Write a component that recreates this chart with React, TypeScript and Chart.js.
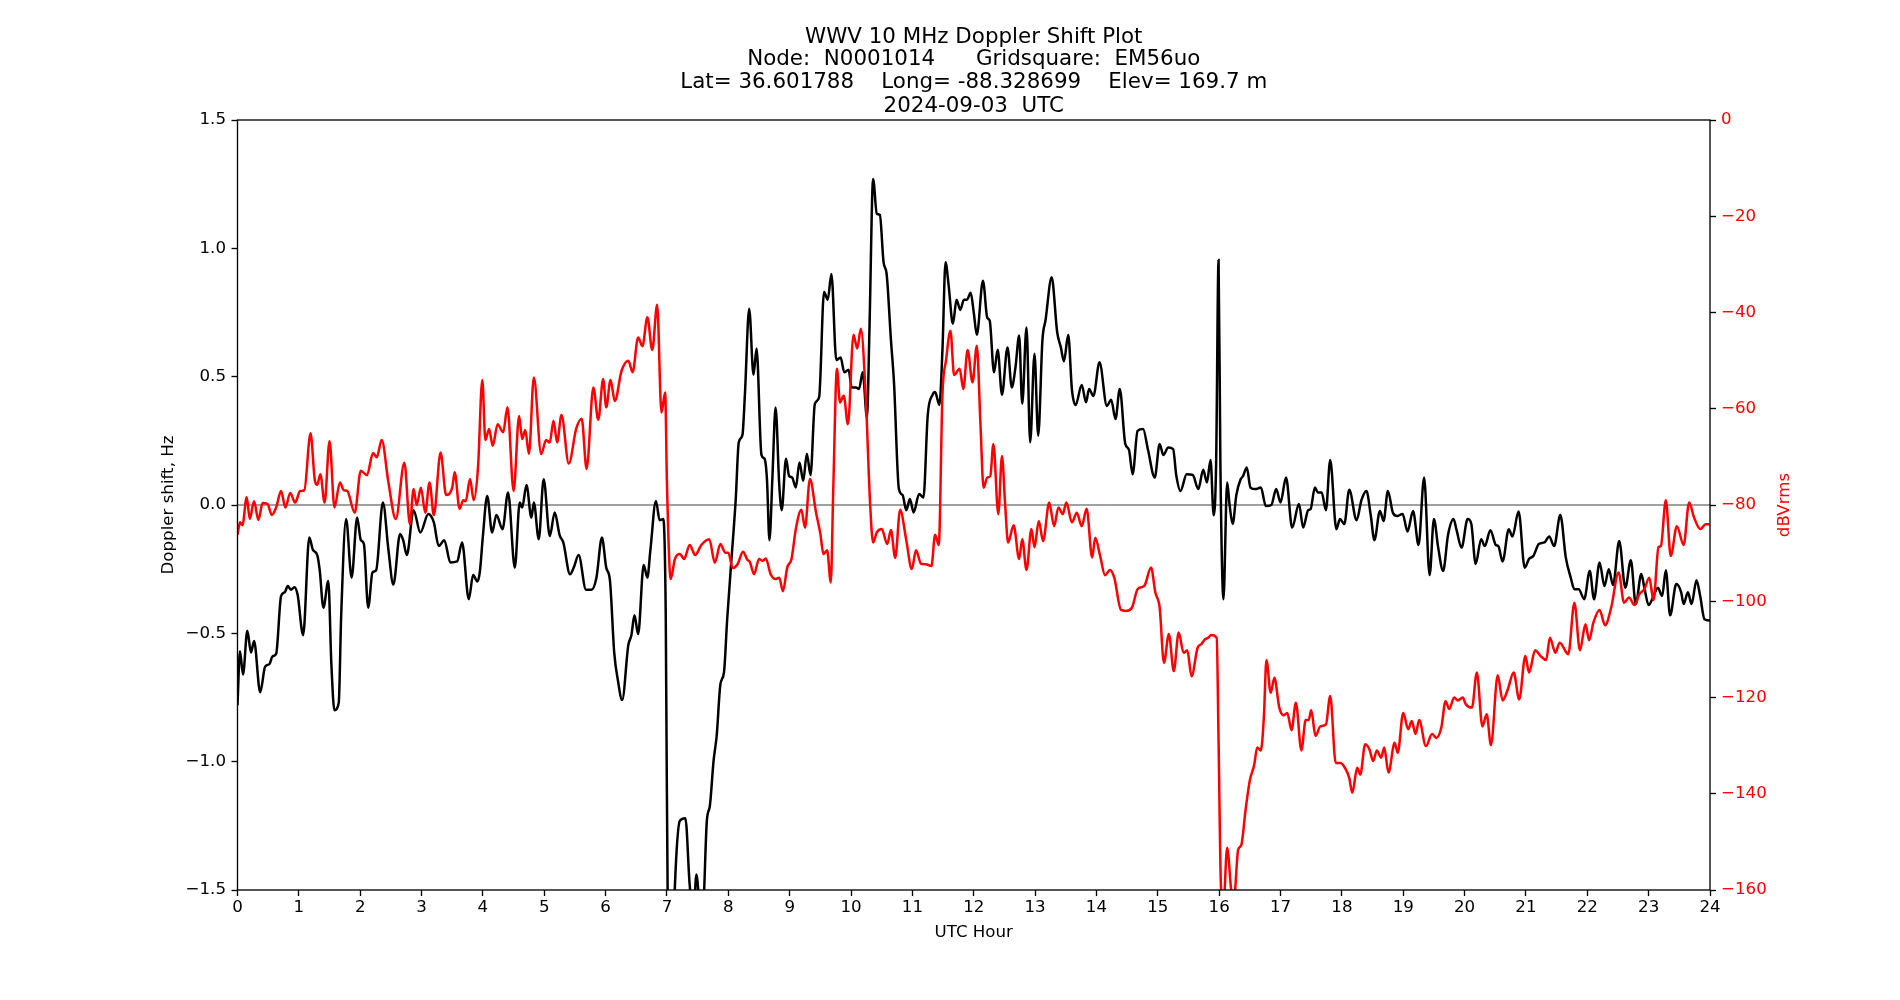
import React, { useEffect, useRef } from "react";
import { Chart, registerables } from "chart.js";

Chart.register(...registerables);

// ---- Data ----
const dopplerHours = [
  0.0, 0.04, 0.09, 0.16, 0.22, 0.27, 0.37, 0.45, 0.52, 0.57, 0.63, 0.71, 0.77, 0.82, 0.87, 0.93, 0.98,
  1.07, 1.17, 1.23, 1.3, 1.34, 1.4, 1.48, 1.53, 1.58, 1.65, 1.69, 1.77, 1.86, 1.95,
  2.01, 2.06, 2.13, 2.2, 2.26, 2.37, 2.46, 2.54, 2.65, 2.7, 2.76, 2.87, 2.98,
  3.11, 3.2, 3.28, 3.37, 3.47, 3.58, 3.66, 3.77, 3.84, 3.91, 3.95, 4.0,
  4.07, 4.15, 4.22, 4.32, 4.41, 4.52, 4.6, 4.64, 4.71, 4.79, 4.83, 4.91, 4.99,
  5.09, 5.17, 5.25, 5.31, 5.42, 5.48, 5.56, 5.68, 5.77, 5.85, 5.94,
  6.01, 6.07, 6.14, 6.2, 6.27, 6.37, 6.42, 6.47, 6.53, 6.62, 6.68, 6.73, 6.82, 6.88, 6.94, 6.98,
  7.02, 7.08, 7.13, 7.21, 7.3, 7.37, 7.43, 7.48, 7.55, 7.58, 7.65, 7.7, 7.76, 7.81, 7.87, 7.93, 7.98,
  8.05, 8.12, 8.17, 8.23, 8.27, 8.34, 8.41, 8.46, 8.54, 8.59, 8.63, 8.67, 8.72, 8.77, 8.83, 8.87, 8.94, 8.99,
  9.04, 9.1, 9.16, 9.22, 9.28, 9.34, 9.41, 9.48, 9.56, 9.62, 9.68, 9.76, 9.83, 9.89, 9.96,
  10.01, 10.08, 10.13, 10.19, 10.26, 10.3, 10.36, 10.42, 10.47, 10.53, 10.58, 10.65, 10.7, 10.78, 10.84, 10.9, 10.96,
  11.02, 11.11, 11.18, 11.25, 11.33, 11.37, 11.44, 11.49, 11.54, 11.59, 11.66, 11.72, 11.78, 11.84, 11.89, 11.95,
  12.0, 12.05, 12.15, 12.22, 12.26, 12.33, 12.39, 12.46, 12.55, 12.62, 12.68, 12.74, 12.79, 12.86, 12.92, 12.99,
  13.05, 13.12, 13.17, 13.27, 13.36, 13.42, 13.47, 13.54, 13.6, 13.66, 13.76, 13.83, 13.88, 13.95,
  14.05, 14.17, 14.24, 14.31, 14.38, 14.47, 14.53, 14.59, 14.67, 14.76, 14.84, 14.95,
  15.03, 15.09, 15.17, 15.25, 15.3, 15.37, 15.47, 15.57, 15.66, 15.74, 15.8, 15.86, 15.91, 15.95, 15.99,
  16.02, 16.07, 16.13, 16.17, 16.22, 16.28, 16.35, 16.39, 16.45, 16.51, 16.59, 16.68, 16.76, 16.85, 16.93,
  17.0, 17.09, 17.19, 17.3, 17.37, 17.45, 17.49, 17.56, 17.61, 17.67, 17.74, 17.81, 17.91, 17.97,
  18.04, 18.12, 18.24, 18.32, 18.4, 18.47, 18.53, 18.62, 18.68, 18.75, 18.83, 18.9, 18.99,
  19.07, 19.16, 19.25, 19.34, 19.43, 19.5, 19.57, 19.65, 19.73, 19.82, 19.87, 19.95,
  20.05, 20.11, 20.18, 20.27, 20.33, 20.42, 20.51, 20.55, 20.62, 20.72, 20.78, 20.88, 20.98,
  21.05, 21.12, 21.21, 21.3, 21.38, 21.46, 21.56, 21.65, 21.73, 21.79, 21.86, 21.95,
  22.04, 22.11, 22.2, 22.28, 22.35, 22.42, 22.52, 22.62, 22.71, 22.79, 22.88, 22.93,
  23.0, 23.07, 23.15, 23.22, 23.28, 23.35, 23.45, 23.53, 23.57, 23.64, 23.7, 23.78, 23.84, 23.91, 24.0,
];

const dopplerHz = [
  -0.78, -0.57, -0.66, -0.49, -0.575, -0.53, -0.73, -0.63, -0.62, -0.59, -0.58, -0.355, -0.34, -0.316, -0.33, -0.32, -0.35,
  -0.507, -0.127, -0.175, -0.195, -0.254, -0.4, -0.296, -0.62, -0.8, -0.77, -0.43, -0.055, -0.283, -0.049,
  -0.137, -0.152, -0.4, -0.263, -0.254, 0.01, -0.175, -0.31, -0.113, -0.137, -0.195, -0.02, -0.107,
  -0.035, -0.068, -0.16, -0.137, -0.224, -0.22, -0.146, -0.367, -0.273, -0.298, -0.26, -0.12,
  0.035, -0.107, -0.039, -0.094, 0.049, -0.244, 0.01, -0.01, 0.078, -0.049, 0.01, -0.133, 0.1,
  -0.121, -0.029, -0.117, -0.146, -0.27, -0.244, -0.195, -0.33, -0.33, -0.283, -0.127,
  -0.244, -0.293, -0.575, -0.683, -0.76, -0.546, -0.507, -0.43, -0.503, -0.234, -0.283, -0.175, 0.016, -0.059, -0.055, -0.43,
  -1.8, -1.9, -1.48, -1.23, -1.22, -1.48, -1.6, -1.44, -1.6, -1.6, -1.23, -1.17, -0.995, -0.9, -0.7, -0.65, -0.45,
  -0.215, 0.02, 0.244, 0.273, 0.43, 0.765, 0.507, 0.61, 0.195, 0.18, 0.098, -0.137, 0.117, 0.38, 0.078, -0.02, 0.18, 0.113,
  0.107, 0.068, 0.166, 0.094, 0.2, 0.117, 0.394, 0.42, 0.83, 0.8, 0.9, 0.565, 0.575, 0.517, 0.527,
  0.458, 0.458, 0.452, 0.517, 0.34, 0.683, 1.27, 1.135, 1.13, 0.946, 0.9, 0.644, 0.478, 0.062, 0.039, -0.02, 0.023,
  -0.029, 0.043, 0.029, 0.35, 0.43, 0.44, 0.39, 0.605, 0.946, 0.858, 0.706, 0.8, 0.76, 0.8, 0.8, 0.827,
  0.75, 0.663, 0.874, 0.73, 0.718, 0.517, 0.605, 0.43, 0.614, 0.458, 0.536, 0.66, 0.394, 0.692, 0.244, 0.589,
  0.27, 0.644, 0.72, 0.887, 0.673, 0.614, 0.56, 0.663, 0.45, 0.39, 0.468, 0.4, 0.452, 0.425,
  0.556, 0.386, 0.41, 0.335, 0.452, 0.238, 0.215, 0.12, 0.289, 0.296, 0.215, 0.107,
  0.238, 0.195, 0.224, 0.218, 0.117, 0.055, 0.12, 0.117, 0.062, 0.137, 0.088, 0.175, -0.04, 0.156, 0.955,
  0.156, -0.367, 0.088, 0.0, -0.074, 0.039, 0.1, 0.113, 0.146, 0.068, 0.062, 0.068, -0.004, 0.0, 0.062,
  0.01, 0.107, -0.088, 0.004, -0.088, -0.02, -0.016, 0.068, 0.049, 0.049, -0.02, 0.175, -0.094, -0.055,
  -0.074, 0.059, -0.059, 0.02, 0.055, -0.039, -0.137, -0.023, -0.062, 0.055, -0.029, -0.043, -0.035,
  -0.103, -0.023, -0.156, 0.107, -0.273, -0.055, -0.166, -0.257, -0.117, -0.055, -0.098, -0.166,
  -0.055, -0.074, -0.23, -0.133, -0.16, -0.098, -0.156, -0.16, -0.22, -0.094, -0.123, -0.025, -0.244,
  -0.21, -0.199, -0.152, -0.146, -0.123, -0.16, -0.039, -0.205, -0.283, -0.328, -0.328, -0.367,
  -0.257, -0.367, -0.224, -0.316, -0.25, -0.312, -0.14, -0.322, -0.215, -0.386, -0.269, -0.322,
  -0.39, -0.36, -0.322, -0.355, -0.254, -0.43, -0.308, -0.34, -0.386, -0.34, -0.386, -0.293, -0.355, -0.445, -0.45,
];

const powerHours = [
  0.0, 0.04, 0.08, 0.15, 0.2, 0.27, 0.34, 0.41, 0.49, 0.56, 0.63, 0.71, 0.78, 0.86, 0.94,
  1.02, 1.09, 1.19, 1.26, 1.3, 1.35, 1.42, 1.5, 1.58, 1.67, 1.73, 1.79, 1.91,
  2.01, 2.11, 2.21, 2.27, 2.35, 2.46, 2.58, 2.72, 2.81, 2.87, 2.92, 2.99,
  3.06, 3.13, 3.2, 3.31, 3.4, 3.5, 3.54, 3.62, 3.68, 3.72, 3.79, 3.85, 3.92, 3.99,
  4.04, 4.1, 4.16, 4.24, 4.33, 4.4, 4.5, 4.59, 4.64, 4.69, 4.75, 4.83, 4.95,
  5.03, 5.09, 5.15, 5.21, 5.28, 5.4, 5.52, 5.61, 5.69, 5.8, 5.88, 5.96,
  6.01, 6.08, 6.15, 6.26, 6.37, 6.44, 6.53, 6.6, 6.68, 6.76, 6.84, 6.91, 6.97,
  7.0, 7.06, 7.13, 7.21, 7.28, 7.37, 7.46, 7.56, 7.69, 7.78, 7.87, 7.95,
  8.0, 8.07, 8.15, 8.24, 8.31, 8.35, 8.42, 8.5, 8.56, 8.61, 8.69, 8.77, 8.83, 8.89, 8.96,
  9.03, 9.1, 9.19, 9.25, 9.33, 9.43, 9.5, 9.55, 9.61, 9.67, 9.71, 9.77, 9.82, 9.88, 9.95,
  10.04, 10.1, 10.16, 10.24, 10.31, 10.36, 10.42, 10.5, 10.59, 10.65, 10.72, 10.8, 10.9, 10.99,
  11.06, 11.14, 11.22, 11.31, 11.37, 11.43, 11.49, 11.55, 11.62, 11.68, 11.77, 11.83, 11.9, 11.98,
  12.05, 12.11, 12.16, 12.22, 12.27, 12.32, 12.4, 12.46, 12.51, 12.56, 12.65, 12.74, 12.79, 12.86, 12.94, 12.99,
  13.06, 13.13, 13.23, 13.31, 13.38, 13.45, 13.51, 13.6, 13.68, 13.76, 13.84, 13.93, 13.98,
  14.06, 14.14, 14.22, 14.29, 14.4, 14.48, 14.58, 14.67, 14.78, 14.89, 14.96,
  15.03, 15.1, 15.18, 15.26, 15.34, 15.42, 15.48, 15.55, 15.65, 15.71, 15.77, 15.82, 15.87, 15.96, 15.99,
  16.03, 16.07, 16.13, 16.2, 16.24, 16.31, 16.36, 16.43, 16.5, 16.57, 16.62, 16.68, 16.73, 16.77, 16.84, 16.9, 16.98,
  17.05, 17.11, 17.18, 17.25, 17.34, 17.41, 17.46, 17.5, 17.57, 17.65, 17.74, 17.81, 17.9, 17.98,
  18.07, 18.12, 18.17, 18.25, 18.3, 18.38, 18.45, 18.51, 18.57, 18.64, 18.69, 18.76, 18.86, 18.91,
  19.0, 19.08, 19.14, 19.2, 19.26, 19.37, 19.47, 19.54, 19.62, 19.69, 19.75, 19.83, 19.89, 19.97,
  20.02, 20.12, 20.2, 20.29, 20.36, 20.43, 20.54, 20.62, 20.7, 20.8, 20.89, 20.99,
  21.05, 21.15, 21.24, 21.33, 21.39, 21.48, 21.55, 21.69, 21.79, 21.88, 21.97,
  22.03, 22.1, 22.2, 22.29, 22.39, 22.51, 22.6, 22.68, 22.77, 22.85, 22.93,
  23.01, 23.08, 23.16, 23.2, 23.28, 23.36, 23.46, 23.57, 23.66, 23.74, 23.84, 23.93, 24.0,
];

const powerDb = [
  -86.2, -83.6, -84.2, -78.4, -82.9, -79.2, -83.1, -79.6, -79.8, -82.1, -80.5, -77.1, -80.5, -77.5, -79.5,
  -77.1, -76.9, -65.1, -74.8, -75.8, -73.6, -79.5, -66.7, -80.5, -75.3, -76.9, -77.1, -81.6,
  -72.9, -73.8, -69.2, -70.1, -66.5, -75.3, -82.9, -71.2, -84.0, -76.7, -80.0, -76.4,
  -81.6, -75.3, -82.1, -69.1, -77.9, -76.4, -73.2, -80.8, -79.0, -79.2, -74.6, -79.0, -72.2, -54.0,
  -66.5, -64.2, -67.7, -63.2, -64.9, -59.7, -77.1, -61.5, -66.3, -64.4, -69.4, -53.5, -69.4,
  -66.5, -67.0, -62.5, -67.0, -61.3, -71.4, -64.2, -62.1, -72.5, -55.6, -62.3, -53.8,
  -59.7, -54.0, -58.4, -52.1, -50.0, -52.4, -45.2, -47.0, -41.0, -47.8, -38.4, -60.8, -56.6,
  -75.8, -95.4, -91.2, -90.2, -91.2, -88.3, -90.4, -88.3, -87.1, -92.0, -88.1, -89.9,
  -89.9, -93.1, -92.3, -89.7, -91.4, -91.8, -94.4, -91.2, -91.6, -91.1, -94.4, -95.4, -95.1, -97.9, -93.0,
  -91.2, -85.0, -81.0, -84.7, -74.6, -81.6, -86.0, -90.2, -89.4, -96.1, -76.9, -51.7, -58.7, -57.3, -63.2,
  -44.6, -47.5, -43.4, -57.6, -79.5, -87.8, -85.7, -85.0, -88.1, -85.2, -91.0, -81.0, -87.3, -93.3,
  -89.4, -92.2, -92.3, -92.7, -86.2, -88.3, -57.1, -49.8, -43.8, -53.0, -51.7, -55.9, -47.8, -54.5,
  -46.9, -63.4, -76.4, -74.3, -74.0, -67.3, -81.9, -69.8, -79.5, -87.8, -84.2, -91.2, -87.1, -93.5, -85.0, -88.8,
  -83.3, -87.5, -79.5, -84.4, -80.5, -81.9, -79.5, -83.6, -81.6, -84.4, -80.8, -90.9, -86.8,
  -90.6, -94.6, -93.5, -95.1, -101.8, -102.0, -101.3, -97.5, -96.8, -93.0, -98.2,
  -101.3, -112.8, -106.8, -114.5, -106.5, -110.7, -110.2, -115.6, -109.6, -108.9, -107.9, -107.6, -107.0, -107.6, -128.9,
  -159.6, -163.0, -151.2, -160.5, -162.0, -151.6, -150.7, -143.4, -137.2, -134.1, -130.4, -131.0, -123.7, -112.2, -119.0, -115.9, -122.1,
  -123.7, -123.2, -126.8, -121.1, -131.0, -124.7, -124.7, -122.6, -128.0, -126.0, -125.6, -119.7, -133.6, -133.6,
  -135.1, -136.7, -139.8, -134.6, -136.0, -129.7, -130.8, -133.2, -131.0, -132.5, -130.4, -135.6, -129.4, -131.5,
  -123.2, -126.6, -124.9, -127.6, -124.7, -130.1, -127.6, -128.4, -126.3, -120.8, -122.4, -120.0, -120.6, -120.0,
  -121.4, -122.1, -114.8, -126.0, -123.5, -129.9, -115.4, -120.6, -118.5, -114.8, -120.4, -111.4,
  -114.8, -110.2, -111.4, -112.2, -107.6, -110.7, -108.6, -111.0, -100.3, -110.2, -104.8,
  -108.1, -104.4, -101.8, -105.0, -101.3, -94.0, -100.3, -99.2, -100.8, -98.5, -97.5,
  -95.1, -99.8, -88.8, -88.5, -79.0, -90.6, -84.4, -88.3, -79.5, -82.6, -85.0, -84.0, -84.0,
];

const titleLines = [
  "WWV 10 MHz Doppler Shift Plot",
  "Node:  N0001014      Gridsquare:  EM56uo",
  "Lat= 36.601788    Long= -88.328699    Elev= 169.7 m",
  "2024-09-03  UTC",
];
const xAxisTitle = "UTC Hour";
const leftAxisTitle = "Doppler shift, Hz";
const rightAxisTitle = "dBVrms";

const hourRange = [0, 24];
const hzRange = [-1.5, 1.5];
const dbRange = [-160, 0];

const FONT = "'DejaVu Sans', 'Liberation Sans', sans-serif";
const mpMinus = (s: string) => s.replace("-", "\u2212");

export default function App() {
  const ref = useRef<HTMLCanvasElement | null>(null);

  useEffect(() => {
    document.body.style.margin = "0";
    document.body.style.background = "#ffffff";
    const canvas = ref.current;
    if (!canvas) return;

    const textPlugin = {
      id: "mplText",
      beforeDraw(chart: any) {
        const ctx = chart.ctx;
        ctx.save();
        ctx.fillStyle = "#ffffff";
        ctx.fillRect(0, 0, chart.width, chart.height);
        ctx.restore();
      },
      afterDraw(chart: any) {
        const { ctx, chartArea: a } = chart;
        ctx.save();
        ctx.strokeStyle = "#000000";
        ctx.lineWidth = 1.33;
        ctx.strokeRect(a.left, a.top, a.right - a.left, a.bottom - a.top);

        const cx = (a.left + a.right) / 2;
        const cy = (a.top + a.bottom) / 2;
        ctx.fillStyle = "#000000";
        ctx.textAlign = "center";
        ctx.textBaseline = "alphabetic";
        ctx.font = `21.4px ${FONT}`;
        const baselines = [42.7, 65.4, 88.4, 111.5];
        titleLines.forEach((t, i) => ctx.fillText(t, cx, baselines[i]));

        ctx.font = `16.67px ${FONT}`;
        ctx.fillText(xAxisTitle, cx, 937);

        ctx.save();
        ctx.translate(173, cy);
        ctx.rotate(-Math.PI / 2);
        ctx.fillText(leftAxisTitle, 0, 0);
        ctx.restore();

        ctx.save();
        ctx.fillStyle = "#ff0000";
        ctx.translate(1789, cy);
        ctx.rotate(-Math.PI / 2);
        ctx.fillText(rightAxisTitle, 0, 0);
        ctx.restore();

        ctx.restore();
      },
    };

    const tickFont = { family: FONT, size: 16.67 };
    const gridCommon = {
      display: true,
      drawOnChartArea: false,
      drawTicks: true,
      tickLength: 6,
      tickWidth: 1.33,
      tickColor: "#000000",
    };

    const chart = new Chart(canvas, {
      type: "line",
      data: {
        datasets: [
          {
            label: "zero",
            data: [
              { x: hourRange[0], y: 0 },
              { x: hourRange[1], y: 0 },
            ],
            borderColor: "#808080",
            borderWidth: 1.3,
            pointRadius: 0,
            yAxisID: "y",
            order: 2,
          },
          {
            label: "Doppler shift",
            data: dopplerHours.map((h, i) => ({ x: h, y: dopplerHz[i] })),
            borderColor: "#000000",
            borderWidth: 2.5,
            pointRadius: 0,
            cubicInterpolationMode: "monotone",
            yAxisID: "y",
            order: 1,
          },
          {
            label: "Power",
            data: powerHours.map((h, i) => ({ x: h, y: powerDb[i] })),
            borderColor: "#ff0000",
            borderWidth: 2.5,
            pointRadius: 0,
            cubicInterpolationMode: "monotone",
            yAxisID: "y2",
            order: 0,
          },
        ],
      },
      options: {
        responsive: false,
        maintainAspectRatio: false,
        devicePixelRatio: 1,
        animation: false,
        events: [],
        layout: { padding: { top: 120, left: 0, right: 0, bottom: 0 } },
        plugins: {
          legend: { display: false },
          title: { display: false },
          tooltip: { enabled: false },
        },
        scales: {
          x: {
            type: "linear",
            position: "bottom",
            min: hourRange[0],
            max: hourRange[1],
            border: { display: false },
            grid: gridCommon,
            ticks: {
              stepSize: 1,
              autoSkip: false,
              maxRotation: 0,
              padding: 2,
              color: "#000000",
              font: tickFont,
              callback: (v: any) => mpMinus(String(v)),
            },
            afterFit: (s: any) => {
              s.height = 110;
            },
          },
          y: {
            type: "linear",
            position: "left",
            min: hzRange[0],
            max: hzRange[1],
            border: { display: false },
            grid: gridCommon,
            ticks: {
              stepSize: 0.5,
              padding: 5.5,
              color: "#000000",
              font: tickFont,
              callback: (v: any) => mpMinus(Number(v).toFixed(1)),
            },
            afterFit: (s: any) => {
              s.width = 237.5;
            },
          },
          y2: {
            type: "linear",
            position: "right",
            min: dbRange[0],
            max: dbRange[1],
            border: { display: false },
            grid: gridCommon,
            ticks: {
              stepSize: 20,
              padding: 5,
              color: "#ff0000",
              font: tickFont,
              callback: (v: any) => mpMinus(String(Math.round(Number(v)))),
            },
            afterFit: (s: any) => {
              s.width = 190;
            },
          },
        },
      } as any,
      plugins: [textPlugin],
    });

    return () => {
      chart.destroy();
    };
  }, []);

  return (
    <div style={{ width: 1900, height: 1000, overflow: "hidden", background: "#ffffff" }}>
      <canvas ref={ref} width={1900} height={1000} style={{ display: "block", width: 1900, height: 1000 }} />
    </div>
  );
}
